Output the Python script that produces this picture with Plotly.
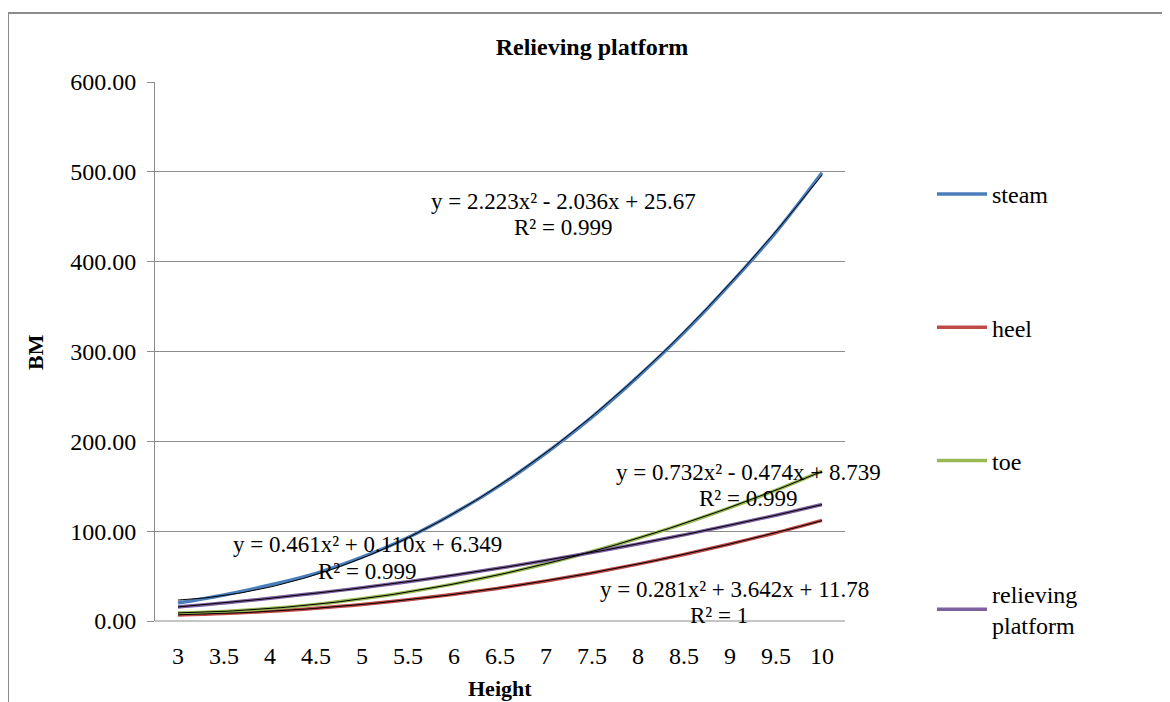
import numpy as np
import plotly.graph_objects as go

heights = ["3", "3.5", "4", "4.5", "5", "5.5", "6", "6.5", "7", "7.5", "8", "8.5", "9", "9.5", "10"]
steam = [20, 29, 40, 53, 71, 93, 120, 151, 187, 227, 272, 321, 375, 433, 499]
heel = [6.8, 8.4, 10.8, 14.2, 18.4, 23.6, 29.7, 36.7, 44.6, 53.5, 63.3, 74.0, 85.7, 98.2, 112.0]
toe = [9.0, 10.7, 13.9, 18.5, 24.7, 32.2, 41.3, 51.8, 63.8, 77.3, 92.1, 108.4, 126.3, 145.6, 166.8]
relieving = [15.7, 20.0, 25.2, 31.0, 37.0, 43.7, 51.0, 58.9, 67.3, 76.3, 85.8, 95.9, 106.6, 117.8, 129.6]

series_names = ["steam", "heel", "toe", "relieving<br>platform"]
series_values = [steam, heel, toe, relieving]
series_colors = ["#4A7EBB", "#BE4B48", "#98B954", "#7D60A0"]

eq_text = [
    ("y = 2.223x² - 2.036x + 25.67", "R² = 0.999"),
    ("y = 0.461x² + 0.110x + 6.349", "R² = 0.999"),
    ("y = 0.732x² - 0.474x + 8.739", "R² = 0.999"),
    ("y = 0.281x² + 3.642x + 11.78", "R² = 1"),
]

FONT = "Liberation Serif, Times New Roman, serif"

fig = go.Figure()
idx = np.arange(1, len(heights) + 1)

for i, (name, vals, col) in enumerate(zip(series_names, series_values, series_colors)):
    fig.add_trace(go.Scatter(
        x=heights, y=vals, mode="lines", name=name,
        line=dict(color=col, width=3.5, shape="spline"),
        legendgroup=f"g{i}",
    ))

# polynomial trendlines (order 2) fitted to the data, like Excel
for i, vals in enumerate(series_values):
    c = np.polyfit(idx, vals, 2)
    fine = np.linspace(1, len(heights), 120)
    fig.add_trace(go.Scatter(
        x=fine - 1, y=np.polyval(c, fine), mode="lines",
        line=dict(color="black", width=1), showlegend=False,
        hoverinfo="skip", xaxis="x2",
    ))

OFF = 8  # page body margin
L, R, T, B = 155 - OFF, 845 - OFF, 82 - OFF, 621 - OFF
W, H = 1170 - OFF, 702 - OFF
pw, ph = R - L, B - T


def px(x):
    return (x - OFF - L) / pw


def py(y):
    return (B - (y - OFF)) / ph


ann_pos = [
    ((563, 201), (563, 228)),
    ((367, 544), (367, 571)),
    ((748, 472), (748, 498)),
    ((734, 589), (719, 615)),
]
annotations = []
for (eq, r2), ((x1, y1), (x2, y2)) in zip(eq_text, ann_pos):
    for t, (x, y) in ((eq, (x1, y1)), (r2, (x2, y2))):
        annotations.append(dict(x=px(x), y=py(y), xref="paper", yref="paper", text=t,
                                xanchor="center", yanchor="middle", showarrow=False,
                                font=dict(family=FONT, size=23, color="black")))

annotations.append(dict(x=px(35), y=py(352), xref="paper", yref="paper", text="<b>BM</b>",
                        xanchor="center", yanchor="middle",
                        textangle=-90, showarrow=False, font=dict(family=FONT, size=22, color="black")))
annotations.append(dict(x=px(500), y=py(688), xref="paper", yref="paper", text="<b>Height</b>",
                        xanchor="center", yanchor="middle",
                        showarrow=False, font=dict(family=FONT, size=22, color="black")))

fig.update_layout(
    width=W, height=H,
    margin=dict(l=L, r=W - R, t=T, b=H - B),
    paper_bgcolor="white", plot_bgcolor="white",
    title=dict(text="<b>Relieving platform</b>", x=px(592), xref="paper", xanchor="center",
               y=(H - (47 - OFF)) / H, yanchor="middle", font=dict(family=FONT, size=24, color="black")),
    font=dict(family=FONT, size=24, color="black"),
    xaxis=dict(type="category", range=[-0.5, 14.5], showgrid=False, showline=False,
               ticks="", tickfont=dict(family=FONT, size=24), ticklabelstandoff=18),
    xaxis2=dict(overlaying="x", range=[-0.5, 14.5], visible=False),
    yaxis=dict(range=[0, 600], dtick=100, tickformat=".2f", showgrid=True, gridcolor="#8c8c8c",
               gridwidth=1, showline=True, linecolor="#8c8c8c", linewidth=1, ticks="outside",
               ticklen=7, tickcolor="#8c8c8c", tickfont=dict(family=FONT, size=24),
               zeroline=False, ticklabelstandoff=6),
    legend=dict(x=px(932), y=py(172), xanchor="left", yanchor="top", tracegroupgap=99,
                font=dict(family=FONT, size=24, color="black"), bgcolor="rgba(0,0,0,0)",
                itemwidth=50),
    annotations=annotations,
    shapes=[
        dict(type="rect", xref="paper", yref="paper", x0=px(8), x1=px(1165), y0=py(720), y1=py(13),
             line=dict(color="#8c8c8c", width=2), layer="below"),
        dict(type="line", xref="paper", yref="paper", x0=0, x1=1, y0=0, y1=0,
             line=dict(color="#8c8c8c", width=1), layer="below"),
    ],
)

fig.write_html("out.html")
